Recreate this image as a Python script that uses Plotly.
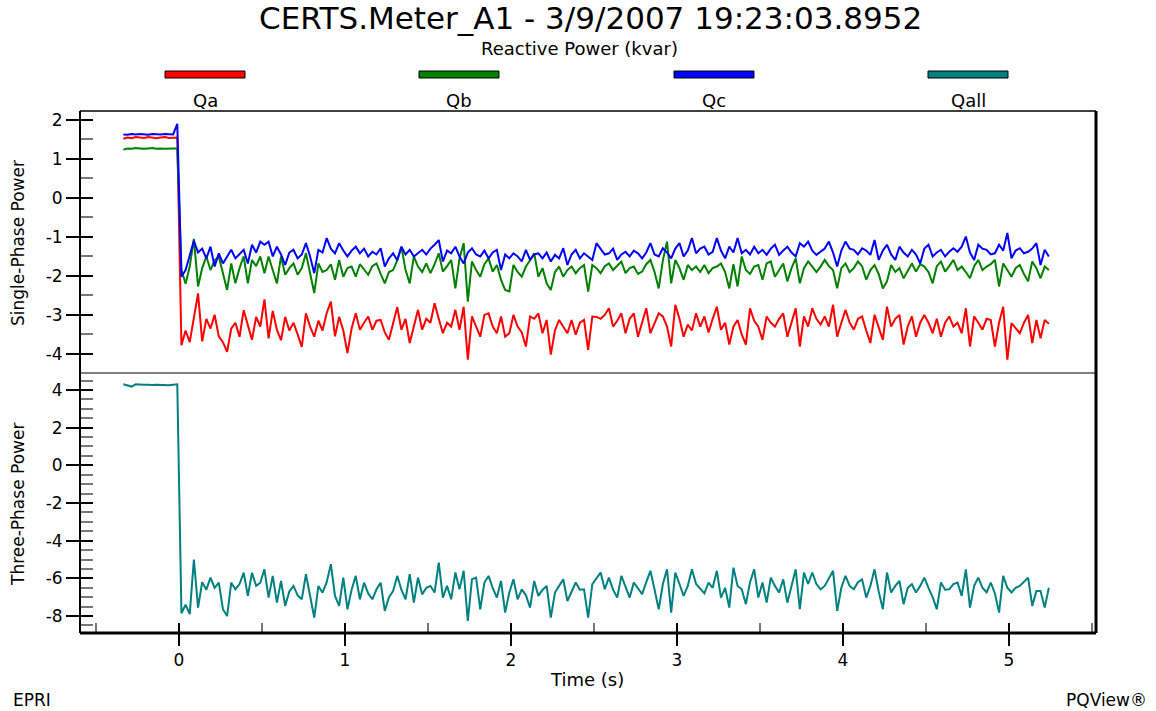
import plotly.graph_objects as go

# ---------------- data ----------------
T_START = -0.335   # s, time of first sample
T_STEP = 0.025     # s, sample spacing

# single-phase reactive power (kvar)
QA = [1.52, 1.55, 1.53, 1.56, 1.55, 1.54, 1.56, 1.55, 1.53, 1.55, 1.56, 1.54, 1.55, 1.55,
      -3.78, -3.40, -3.70, -3.10, -2.45, -3.68, -3.10, -3.35, -3.00, -3.55,
      -3.70, -3.95, -3.35, -3.20, -3.56, -2.88, -3.25, -3.64, -3.05, -3.30,
      -2.60, -3.60, -2.90, -3.38, -3.65, -3.05, -3.40, -3.20, -3.50, -3.82,
      -2.96, -3.30, -3.56, -3.15, -3.40, -2.95, -2.66, -3.55, -3.05, -3.40,
      -3.98, -3.35, -2.96, -3.38, -3.20, -3.04, -3.38, -3.15, -3.13, -3.45,
      -3.64, -3.20, -2.80, -3.38, -3.10, -3.72, -3.30, -2.87, -3.38, -3.10,
      -3.20, -2.70, -3.10, -3.47, -3.20, -3.30, -2.87, -3.38, -2.79, -4.15,
      -3.04, -3.30, -3.56, -3.00, -2.96, -3.30, -3.47, -3.04, -3.56, -3.47,
      -3.00, -3.30, -3.45, -3.81, -3.04, -3.10, -2.96, -3.47, -3.13, -4.02,
      -3.40, -3.13, -3.30, -3.47, -3.13, -3.51, -3.20, -3.13, -3.90, -3.04,
      -3.05, -3.10, -3.00, -2.83, -3.30, -3.15, -2.96, -3.47, -3.10, -2.96,
      -3.56, -3.20, -2.83, -3.47, -3.20, -2.96, -3.04, -3.30, -3.81, -2.74,
      -3.10, -3.56, -3.25, -3.40, -2.96, -3.30, -3.04, -3.45, -3.10, -2.79,
      -3.38, -3.20, -3.76, -3.30, -3.13, -3.50, -3.76, -2.83, -3.15, -3.30,
      -3.64, -3.04, -3.20, -3.30, -3.10, -2.96, -3.56, -3.20, -2.83, -3.81,
      -3.04, -3.30, -2.83, -3.10, -3.25, -3.04, -3.30, -2.74, -3.56, -3.20,
      -2.87, -3.20, -3.38, -3.10, -3.04, -3.40, -3.72, -3.00, -3.30, -3.64,
      -2.79, -3.30, -3.10, -3.00, -3.76, -3.30, -3.04, -3.56, -3.20, -3.00,
      -3.20, -3.47, -3.10, -3.56, -3.20, -3.04, -3.30, -3.20, -3.47, -2.83,
      -3.81, -3.04, -3.20, -3.38, -3.10, -3.13, -3.81, -3.20, -2.79, -4.15,
      -3.21, -3.35, -3.47, -3.20, -3.00, -3.72, -3.13, -3.60, -3.13, -3.23]

QB = [1.24, 1.27, 1.26, 1.28, 1.27, 1.26, 1.27, 1.28, 1.26, 1.27, 1.26, 1.27, 1.27, 1.27,
      -1.85, -2.20, -1.76, -1.05, -2.27, -1.80, -1.50, -1.85, -1.60, -1.50,
      -1.90, -2.36, -1.68, -2.19, -1.80, -1.50, -2.19, -1.59, -1.75, -1.50,
      -1.93, -1.50, -1.85, -2.19, -1.50, -1.97, -1.80, -1.68, -1.97, -1.80,
      -1.42, -1.90, -2.44, -1.68, -1.90, -1.85, -1.70, -2.10, -1.59, -2.02,
      -1.80, -1.76, -2.02, -1.70, -1.85, -1.97, -1.75, -1.68, -1.95, -2.19,
      -1.90, -1.85, -1.60, -1.25, -1.85, -2.19, -1.50, -1.76, -1.90, -1.68,
      -1.93, -1.70, -1.42, -1.89, -1.75, -1.59, -2.32, -1.55, -1.16, -2.66,
      -1.63, -1.85, -2.02, -1.70, -1.55, -1.89, -1.72, -2.10, -2.36, -2.40,
      -1.72, -1.90, -2.02, -1.76, -1.60, -1.42, -2.02, -1.80, -2.19, -2.36,
      -1.90, -1.76, -2.02, -1.85, -1.76, -1.93, -1.80, -1.72, -2.40, -1.72,
      -1.80, -1.93, -1.75, -1.68, -1.85, -1.75, -1.63, -1.93, -1.80, -1.76,
      -1.95, -1.89, -1.70, -1.59, -1.90, -2.32, -1.60, -1.12, -2.19, -1.59,
      -1.80, -2.10, -1.72, -1.85, -1.76, -1.90, -1.72, -1.93, -1.80, -1.76,
      -1.68, -1.90, -2.32, -1.70, -2.27, -1.50, -1.85, -1.95, -1.76, -1.72,
      -2.10, -1.68, -1.63, -2.02, -1.85, -1.68, -2.14, -1.80, -1.55, -2.19,
      -1.80, -1.63, -1.76, -1.90, -1.76, -1.59, -1.75, -1.85, -2.32, -1.80,
      -1.68, -1.90, -1.80, -1.63, -1.75, -2.10, -1.85, -1.72, -1.95, -2.32,
      -2.14, -1.72, -1.90, -1.80, -2.06, -1.85, -1.68, -1.89, -1.70, -1.76,
      -1.90, -2.19, -1.75, -1.63, -1.89, -1.75, -1.59, -1.85, -1.76, -1.90,
      -2.06, -1.75, -1.59, -1.85, -1.76, -1.70, -1.59, -2.27, -1.68, -1.85,
      -2.02, -1.80, -1.72, -1.95, -2.14, -1.63, -1.80, -2.06, -1.76, -1.85]

QC = [1.63, 1.62, 1.64, 1.63, 1.64, 1.63, 1.62, 1.64, 1.63, 1.63, 1.64, 1.63, 1.63, 1.90,
      -2.02, -1.85, -1.50, -1.10, -1.40, -1.30, -1.55, -1.25, -1.76, -1.42,
      -1.68, -1.50, -1.33, -1.55, -1.45, -1.33, -1.68, -1.20, -1.40, -1.12,
      -1.20, -1.12, -1.50, -1.25, -1.45, -1.72, -1.40, -1.33, -1.55, -1.45,
      -1.16, -1.50, -1.93, -1.33, -1.40, -1.03, -1.30, -1.42, -1.16, -1.35,
      -1.50, -1.35, -1.25, -1.42, -1.30, -1.50, -1.38, -1.45, -1.29, -1.76,
      -1.55, -1.42, -1.60, -1.25, -1.45, -1.33, -1.50, -1.42, -1.33, -1.45,
      -1.30, -1.20, -1.08, -1.63, -1.35, -1.42, -1.25, -1.50, -1.68, -1.40,
      -1.29, -1.45, -1.50, -1.35, -1.55, -1.40, -1.33, -1.85, -1.45, -1.55,
      -1.42, -1.50, -1.63, -1.33, -1.59, -1.45, -1.42, -1.55, -1.40, -1.63,
      -1.46, -1.55, -1.29, -1.72, -1.45, -1.33, -1.55, -1.42, -1.50, -1.59,
      -1.16, -1.29, -1.45, -1.42, -1.30, -1.59, -1.45, -1.38, -1.50, -1.35,
      -1.42, -1.55, -1.40, -1.16, -1.45, -1.50, -1.29, -1.40, -1.55, -1.30,
      -1.16, -1.50, -1.35, -1.03, -1.42, -1.30, -1.25, -1.45, -1.38, -1.03,
      -1.35, -1.55, -1.25, -1.40, -1.03, -1.42, -1.33, -1.45, -1.25, -1.42,
      -1.33, -1.46, -1.30, -1.20, -1.46, -1.35, -1.25, -1.40, -1.50, -1.16,
      -1.25, -1.12, -1.35, -1.46, -1.38, -1.30, -1.12, -1.40, -1.76, -1.35,
      -1.12, -1.30, -1.33, -1.45, -1.29, -1.35, -1.46, -1.08, -1.59, -1.35,
      -1.20, -1.45, -1.59, -1.25, -1.40, -1.50, -1.33, -1.45, -1.68, -1.30,
      -1.20, -1.50, -1.40, -1.33, -1.50, -1.38, -1.29, -1.38, -1.25, -0.99,
      -1.40, -1.59, -1.20, -1.30, -1.33, -1.45, -1.42, -1.20, -1.35, -0.90,
      -1.55, -1.35, -1.29, -1.42, -1.38, -1.30, -1.16, -1.72, -1.33, -1.50]

# three-phase reactive power (kvar)
QALL = [4.30, 4.25, 4.18, 4.30, 4.28, 4.27, 4.28, 4.26, 4.28, 4.27, 4.27, 4.25, 4.28, 4.30,
        -7.85, -7.40, -7.90, -5.00, -7.55, -6.20, -6.60, -5.96, -6.50, -6.23,
        -7.64, -8.00, -6.23, -6.58, -6.30, -5.70, -6.93, -5.70, -6.40, -6.23,
        -5.52, -7.02, -5.87, -7.29, -6.14, -7.46, -6.70, -6.40, -6.90, -7.11,
        -5.78, -6.90, -8.08, -6.40, -6.76, -6.20, -5.25, -6.93, -7.46, -5.96,
        -7.64, -6.60, -5.87, -7.11, -6.23, -6.80, -7.11, -6.58, -6.23, -7.73,
        -7.00, -6.67, -5.87, -6.60, -7.11, -5.78, -7.29, -5.96, -6.85, -6.50,
        -6.40, -6.75, -5.16, -7.02, -6.40, -7.11, -5.69, -6.58, -5.60, -8.26,
        -6.05, -5.96, -7.64, -6.22, -5.87, -6.50, -7.02, -6.14, -7.82, -6.75,
        -6.05, -7.11, -6.58, -6.90, -7.55, -6.14, -6.93, -6.60, -6.40, -8.08,
        -6.75, -6.40, -6.05, -7.20, -6.70, -6.22, -6.60, -6.58, -8.08, -6.31,
        -6.00, -5.69, -6.58, -5.96, -6.60, -7.02, -5.87, -6.50, -7.02, -6.22,
        -6.50, -6.84, -6.20, -5.60, -6.60, -7.64, -6.30, -5.52, -7.82, -5.69,
        -6.30, -6.93, -6.40, -5.52, -6.30, -6.58, -6.80, -6.22, -6.50, -5.60,
        -7.02, -6.50, -7.55, -5.43, -6.40, -6.58, -7.37, -6.20, -5.52, -7.02,
        -6.22, -7.29, -5.96, -6.40, -6.75, -6.05, -7.29, -6.40, -5.52, -7.64,
        -5.69, -6.30, -5.69, -6.30, -6.58, -6.40, -6.00, -5.60, -7.73, -6.50,
        -5.87, -6.40, -6.58, -6.20, -6.05, -7.02, -6.40, -5.52, -6.70, -7.64,
        -5.69, -6.75, -6.40, -6.14, -7.37, -6.50, -6.31, -6.75, -6.40, -5.96,
        -6.50, -7.00, -7.64, -6.22, -6.60, -6.58, -6.30, -6.22, -6.93, -5.52,
        -7.55, -6.40, -5.96, -6.50, -6.75, -6.22, -6.80, -7.82, -5.87, -6.50,
        -6.75, -6.50, -6.40, -6.20, -5.96, -7.46, -6.67, -6.67, -7.55, -6.50]

SERIES_TOP = [("Qa", QA, "#FF0000"), ("Qb", QB, "#008000"), ("Qc", QC, "#0000FF")]
SERIES_BOTTOM = [("Qall", QALL, "#008080")]

TITLE = "CERTS.Meter_A1 - 3/9/2007 19:23:03.8952"
SUBTITLE = "Reactive Power (kvar)"
X_TITLE = "Time (s)"
Y_TITLES = ["Single-Phase Power", "Three-Phase Power"]
X_TICKS = [0, 1, 2, 3, 4, 5]
Y_TOP_TICKS = [-4, -3, -2, -1, 0, 1, 2]
Y_BOT_TICKS = [-8, -6, -4, -2, 0, 2, 4]

time_s = [round(T_START + i * T_STEP, 4) for i in range(len(QA))]

# ---------------- layout geometry ----------------
W, H = 1156, 711
PL, PR, PT, PB = 80, 1096, 111, 633          # plot area in pixels
SPLIT = (PB - 373) / (PB - PT)               # panel boundary (paper units)
X_RANGE = [-0.596, 5.524]
Y_TOP_RANGE = [-4.49, 2.23]
Y_BOT_RANGE = [-8.9, 4.9]
FONT = "DejaVu Sans"


def fx(px):
    return (px - PL) / (PR - PL)


def fy(py):
    return (PB - py) / (PB - PT)


def labels(vals):
    # plain hyphen for negatives
    return [str(v) for v in vals]


fig = go.Figure()

for name, vals, col in SERIES_TOP:
    fig.add_trace(go.Scatter(x=time_s, y=vals, name=name, mode="lines",
                             line=dict(color=col, width=2),
                             xaxis="x", yaxis="y"))
for name, vals, col in SERIES_BOTTOM:
    fig.add_trace(go.Scatter(x=time_s, y=vals, name=name, mode="lines",
                             line=dict(color=col, width=2),
                             xaxis="x2", yaxis="y2"))

# empty traces so the overlay tick axes get drawn
for xa, ya in [("x", "y3"), ("x2", "y4"), ("x3", "y2")]:
    fig.add_trace(go.Scatter(x=[], y=[], xaxis=xa, yaxis=ya, showlegend=False,
                             hoverinfo="skip"))

tickfont = dict(family=FONT, size=17, color="black")
common = dict(showgrid=False, zeroline=False, showline=False)

fig.update_layout(
    width=W, height=H,
    margin=dict(l=PL, r=W - PR, t=PT, b=H - PB, pad=0),
    paper_bgcolor="white", plot_bgcolor="white",
    showlegend=False,
    font=dict(family=FONT, color="black"),
    # top panel
    xaxis=dict(domain=[0, 1], range=X_RANGE, anchor="y", showticklabels=False,
               ticks="", **common),
    yaxis=dict(domain=[SPLIT, 1], range=Y_TOP_RANGE, anchor="x",
               tickmode="array", tickvals=Y_TOP_TICKS, ticktext=labels(Y_TOP_TICKS),
               ticks="outside", ticklen=13,
               tickwidth=1.5, tickcolor="black", tickfont=tickfont,
               minor=dict(ticks="inside", dtick=0.5, tick0=0, ticklen=13,
                          tickcolor="#777777", tickwidth=1.5),
               **common),
    yaxis3=dict(overlaying="y", range=Y_TOP_RANGE, anchor="x", side="left",
                tickmode="linear", tick0=0, dtick=1, ticks="inside", ticklen=13,
                tickwidth=1.5, tickcolor="black", showticklabels=False, **common),
    # bottom panel
    xaxis2=dict(domain=[0, 1], range=X_RANGE, anchor="y2",
                tickmode="array", tickvals=X_TICKS, ticktext=labels(X_TICKS),
                ticks="outside", ticklen=12,
                tickwidth=1.5, tickcolor="black", tickfont=tickfont,
                minor=dict(ticks="inside", dtick=0.5, tick0=0, ticklen=10,
                           tickcolor="#777777", tickwidth=1.5),
                **common),
    xaxis3=dict(overlaying="x2", range=X_RANGE, anchor="y2", side="bottom",
                tickmode="linear", tick0=0, dtick=1, ticks="inside", ticklen=10,
                tickwidth=1.5, tickcolor="black", showticklabels=False, **common),
    yaxis2=dict(domain=[0, SPLIT], range=Y_BOT_RANGE, anchor="x2",
                tickmode="array", tickvals=Y_BOT_TICKS, ticktext=labels(Y_BOT_TICKS),
                ticks="outside", ticklen=13,
                tickwidth=1.5, tickcolor="black", tickfont=tickfont,
                minor=dict(ticks="inside", dtick=0.5, tick0=0, ticklen=13,
                           tickcolor="#777777", tickwidth=1.5),
                **common),
    yaxis4=dict(overlaying="y2", range=Y_BOT_RANGE, anchor="x2", side="left",
                tickmode="linear", tick0=0, dtick=2, ticks="inside", ticklen=13,
                tickwidth=1.5, tickcolor="black", showticklabels=False, **common),
)

# frame around both panels plus the divider
shapes = [
    dict(type="line", xref="paper", yref="paper", x0=0, x1=1, y0=1, y1=1,
         line=dict(color="black", width=1.5)),
    dict(type="line", xref="paper", yref="paper", x0=0, x1=0, y0=0, y1=1,
         line=dict(color="black", width=2)),
    dict(type="line", xref="paper", yref="paper", x0=1, x1=1, y0=0, y1=1,
         line=dict(color="black", width=3)),
    dict(type="line", xref="paper", yref="paper", x0=0, x1=1, y0=0, y1=0,
         line=dict(color="black", width=3)),
    dict(type="line", xref="paper", yref="paper", x0=0, x1=1, y0=SPLIT, y1=SPLIT,
         line=dict(color="black", width=1.2)),
]

# legend: colour bars with the series name underneath
LEGEND_CENTERS = [205, 459, 714, 968]
annotations = []
for (name, _, col), cx in zip(SERIES_TOP + SERIES_BOTTOM, LEGEND_CENTERS):
    shapes.append(dict(type="rect", xref="paper", yref="paper",
                       x0=fx(cx - 40), x1=fx(cx + 40), y0=fy(78), y1=fy(71),
                       fillcolor=col, line=dict(color="black", width=1)))
    annotations.append(dict(text=name, xref="paper", yref="paper",
                            x=fx(cx), y=fy(100), xanchor="center", yanchor="middle",
                            showarrow=False, font=dict(family=FONT, size=18)))

annotations += [
    dict(text=TITLE, xref="paper", yref="paper", x=fx(590), y=fy(18),
         xanchor="center", yanchor="middle", showarrow=False,
         font=dict(family=FONT, size=31)),
    dict(text=SUBTITLE, xref="paper", yref="paper", x=fx(579), y=fy(48),
         xanchor="center", yanchor="middle", showarrow=False,
         font=dict(family=FONT, size=18)),
    dict(text=Y_TITLES[0], xref="paper", yref="paper", x=fx(18), y=fy(243),
         xanchor="center", yanchor="middle", textangle=-90, showarrow=False,
         font=dict(family=FONT, size=17)),
    dict(text=Y_TITLES[1], xref="paper", yref="paper", x=fx(18), y=fy(505),
         xanchor="center", yanchor="middle", textangle=-90, showarrow=False,
         font=dict(family=FONT, size=17)),
    dict(text=X_TITLE, xref="paper", yref="paper", x=fx(587), y=fy(679),
         xanchor="center", yanchor="middle", showarrow=False,
         font=dict(family=FONT, size=18)),
    dict(text="EPRI", xref="paper", yref="paper", x=fx(11), y=fy(700),
         xanchor="left", yanchor="middle", showarrow=False,
         font=dict(family=FONT, size=17)),
    dict(text="PQView®", xref="paper", yref="paper", x=fx(1149), y=fy(700),
         xanchor="right", yanchor="middle", showarrow=False,
         font=dict(family=FONT, size=17)),
]

fig.update_layout(shapes=shapes, annotations=annotations)
fig.write_html("out.html")
